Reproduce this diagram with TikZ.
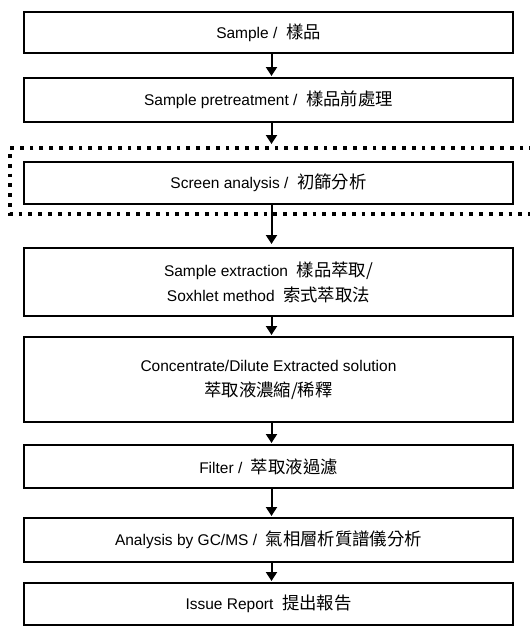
\documentclass[tikz,border=0pt]{standalone}
\usepackage{fontspec}
\setmainfont{Liberation Sans}
\newfontfamily\cjk{Noto Sans CJK TC}[Scale=1.12]
\usetikzlibrary{arrows.meta, positioning}

\begin{document}
\begin{tikzpicture}[
        x=1pt, y=1pt,
        node distance = 25pt,
        stepbox/.style = {draw, line width=1.8pt, outer sep=0pt, minimum width=489pt, inner sep=2pt, align=center, font=\fontsize{15.5}{25}\selectfont},
        edge/.style = {-{Triangle[width=11pt,length=9pt]}, line width=2pt},
        screenframe/.style = {line width=3.8pt, dash pattern=on 3.8pt off 6pt}
    ]
    \useasboundingbox (0,0) rectangle (530,-627);
    \node[stepbox, minimum height=41pt] (sample) at (268.5,-32.5) {Sample / \ {\cjk 樣品}};
    \node[stepbox, minimum height=44pt, below=25pt of sample] (pretreat) {Sample pretreatment / \ {\cjk 樣品前處理}};
    \node[stepbox, minimum height=42pt, below=40pt of pretreat] (screen) {Screen analysis / \ {\cjk 初篩分析}};
    \node[stepbox, minimum height=68pt, below=44pt of screen] (extract) {Sample extraction \ {\cjk 樣品萃取/}\\Soxhlet method \ {\cjk 索式萃取法}};
    \node[stepbox, minimum height=85pt, below=21pt of extract] (conc) {Concentrate/Dilute Extracted solution\\{\cjk 萃取液濃縮/稀釋}};
    \node[stepbox, minimum height=43pt, below=23pt of conc] (filter) {Filter / \ {\cjk 萃取液過濾}};
    \node[stepbox, minimum height=44pt, below=30pt of filter] (gcms) {Analysis by GC/MS / \ {\cjk 氣相層析質譜儀分析}};
    \node[stepbox, minimum height=42pt, below=21pt of gcms] (report) {Issue Report \ {\cjk 提出報告}};

    % dotted frame round the screening step
    \draw[screenframe] ([xshift=30pt,yshift=14pt]screen.north east) -| ([xshift=-14pt,yshift=-10pt]screen.south west) -- ([xshift=30pt,yshift=-10pt]screen.south east);

    \draw[edge] ([xshift=3pt]sample.south) -- ([xshift=3pt,yshift=2pt]pretreat.north);
    \draw[edge] ([xshift=3pt]pretreat.south) -- ([xshift=3pt,yshift=18pt]screen.north);
    \draw[edge] ([xshift=3pt]screen.south) -- ([xshift=3pt,yshift=4pt]extract.north);
    \draw[edge] ([xshift=3pt]extract.south) -- ([xshift=3pt,yshift=2pt]conc.north);
    \draw[edge] ([xshift=3pt]conc.south) -- ([xshift=3pt,yshift=2pt]filter.north);
    \draw[edge] ([xshift=3pt]filter.south) -- ([xshift=3pt,yshift=2pt]gcms.north);
    \draw[edge] ([xshift=3pt]gcms.south) -- ([xshift=3pt,yshift=2pt]report.north);
\end{tikzpicture}
\end{document}
